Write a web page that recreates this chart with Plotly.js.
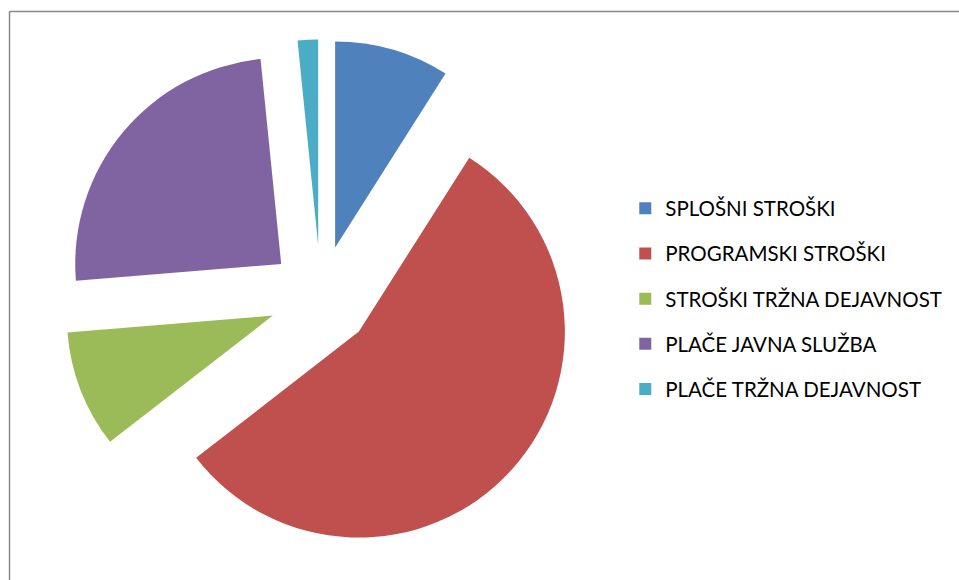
<!DOCTYPE html>
<html>
<head>
<meta charset="utf-8">
<script src="https://cdn.plot.ly/plotly-3.0.1.min.js"></script>
<style>html,body{margin:0;padding:0;background:#fff;}#chart{width:959px;height:580px;}</style>
</head>
<body>
<div id="chart"></div>
<script>
const labels = ["SPLOŠNI STROŠKI", "PROGRAMSKI STROŠKI", "STROŠKI TRŽNA DEJAVNOST", "PLAČE JAVNA SLUŽBA", "PLAČE TRŽNA DEJAVNOST"];
const values = [9.0, 55.5, 9.2, 24.7, 1.6];
const colors = ["#4F81BD", "#C0504D", "#9BBB59", "#8064A2", "#4BACC6"];
const pulls = [0.25, 0.25, 0.25, 0.25, 0.25];

const traces = [{
  type: "pie",
  labels: labels,
  values: values,
  sort: false,
  direction: "clockwise",
  rotation: 0,
  pull: pulls,
  marker: {colors: colors, line: {width: 0}},
  textinfo: "none",
  hoverinfo: "label+percent",
  showlegend: false,
  domain: {x: [0.066, 0.603], y: [0.044, 0.932]}
}];

labels.forEach((lab, i) => {
  traces.push({
    type: "scatter",
    mode: "markers",
    x: [null], y: [null],
    name: lab,
    legendgroup: "g" + i,
    marker: {symbol: "square", size: 12, color: colors[i], line: {width: 0}},
    showlegend: true,
    hoverinfo: "skip"
  });
});

const layout = {
  width: 959, height: 580,
  margin: {l: 0, r: 0, t: 0, b: 0},
  paper_bgcolor: "#ffffff",
  plot_bgcolor: "rgba(0,0,0,0)",
  xaxis: {visible: false, showgrid: false, zeroline: false},
  yaxis: {visible: false, showgrid: false, zeroline: false},
  showlegend: true,
  legend: {
    x: 0.652, xanchor: "left",
    y: 0.675, yanchor: "top",
    tracegroupgap: 15.5,
    bgcolor: "rgba(0,0,0,0)",
    font: {family: "Lato, 'Open Sans', sans-serif", size: 20.5, color: "#000000"}
  },
  shapes: [
    {type: "line", xref: "paper", yref: "paper", x0: 9.5/959, x1: 1, y0: 1 - 11.5/580, y1: 1 - 11.5/580, line: {color: "#888888", width: 1.5}},
    {type: "line", xref: "paper", yref: "paper", x0: 9.5/959, x1: 9.5/959, y0: 0, y1: 1 - 11.5/580, line: {color: "#888888", width: 1.5}}
  ]
};

Plotly.newPlot("chart", traces, layout, {displayModeBar: false, staticPlot: false});
</script>
</body>
</html>
